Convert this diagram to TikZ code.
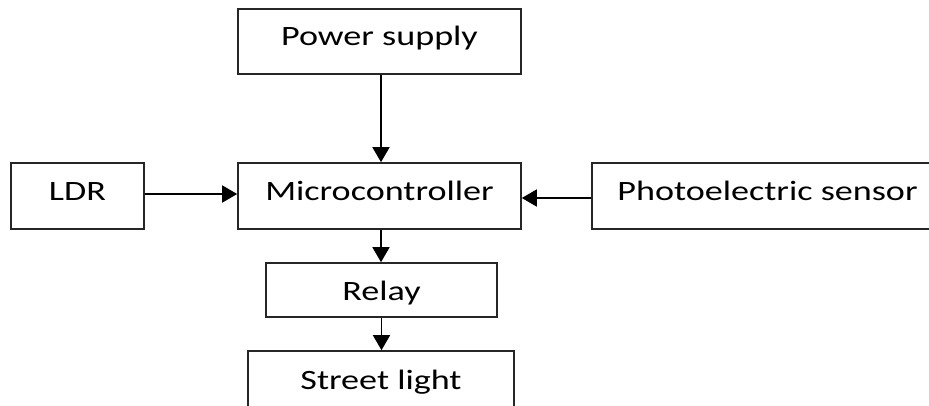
\documentclass[tikz,border=0pt]{standalone}
\usepackage{fontspec}
\setmainfont{Carlito}[FakeStretch=1.29]
\usetikzlibrary{arrows.meta}
\begin{document}
\begin{tikzpicture}[x=1pt,y=-1pt,
  blockbox/.style={draw=black!85,line width=1.6pt,rectangle,inner sep=0pt,
    font=\fontsize{28}{30}\selectfont,text height=18pt,text depth=10pt},
  conn/.style={draw=black,line width=1.6pt,-{Triangle[length=15pt,width=17pt]}}]
\useasboundingbox[fill=white] (0,0) rectangle (929,405);
\node[blockbox,minimum width=283pt,minimum height=65pt] (ps) at (379.5,41.5) {Power supply};
\node[blockbox,minimum width=283pt,minimum height=66pt] (mc) at (379.5,196) {Microcontroller};
\node[blockbox,minimum width=133pt,minimum height=66pt] (ldr) at (77.5,196) {LDR};
\node[blockbox,minimum width=351pt,minimum height=66pt] (pe) at (767.5,196) {Photoelectric sensor};
\node[blockbox,minimum width=231pt,minimum height=54pt,text height=20pt,text depth=0pt] (relay) at (381.5,290) {Relay};
\node[blockbox,minimum width=266pt,minimum height=61pt,text height=18pt,text depth=3pt] (street) at (381,381.5) {Street light};
\draw[conn] ([xshift=1.5pt]ps.south) -- ([xshift=1.5pt]ps.south |- mc.north);
\draw[conn] ([yshift=2pt]ldr.east) -- ([yshift=2pt]ldr.east -| mc.west);
\draw[conn] ([yshift=-2pt]pe.west) -- ([yshift=-2pt]pe.west -| mc.east);
\draw[conn] ([xshift=1.5pt]mc.south) -- ([xshift=1.5pt]mc.south |- relay.north);
\draw[conn] (relay.south) -- (relay.south |- street.north);
\end{tikzpicture}
\end{document}
